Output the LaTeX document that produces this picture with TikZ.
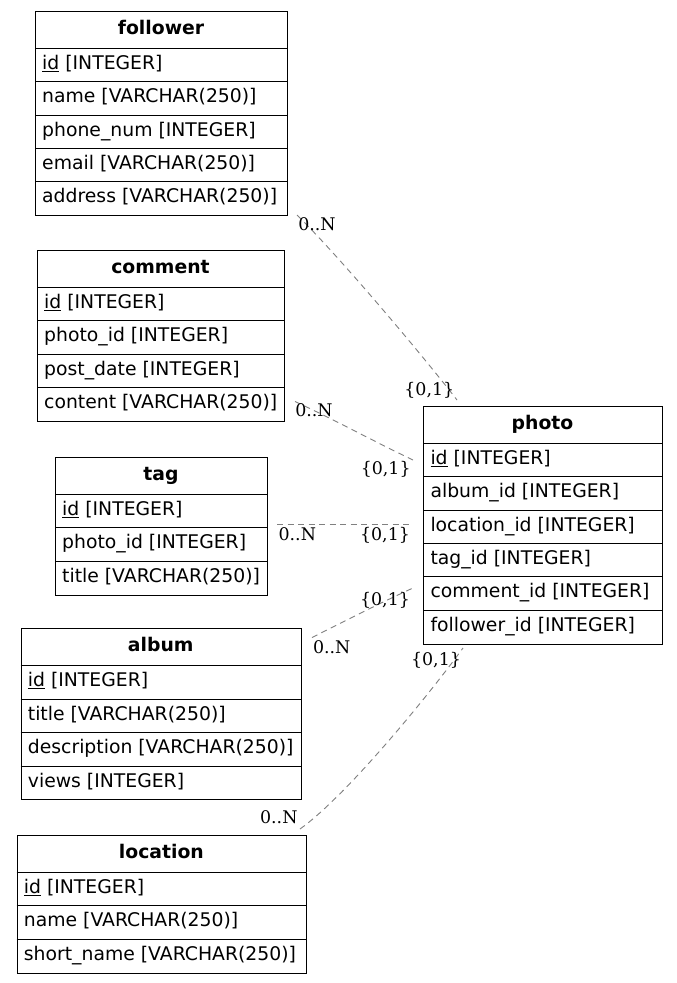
\documentclass[tikz,border=0pt]{standalone}
\usepackage{fontspec}
\setmainfont{DejaVu Sans}
\newfontfamily\lblfont{DejaVu Serif}
\tikzset{
  tbox/.style={draw=black, line width=1pt, inner sep=0pt, fill=none},
  sepline/.style={draw=black, line width=1pt},
  ttitle/.style={anchor=base, inner sep=0pt, font=\fontsize{18.8}{22}\selectfont\bfseries},
  tfield/.style={anchor=base west, inner sep=0pt, font=\fontsize{18.8}{22}\selectfont},
  conn/.style={draw=black!50, line width=0.9pt, dash pattern=on 6pt off 4.5pt},
  card/.style={anchor=base, inner sep=0pt, font=\fontsize{17.4}{20}\lblfont},
}
\newcommand\ertable[6]{%
  \pgfmathsetmacro\erw{#3-#2}%
  \gdef\ern{0}%
  \foreach \f [count=\i] in {#6} {\xdef\ern{\i}}%
  \pgfmathsetmacro\erh{37.5+\ern*33.4}%
  \node[tbox, minimum width=\erw pt, minimum height=\erh pt, anchor=north west] (#1) at (#2,#4) {};
  \node[ttitle] (#1-t) at ({(#2+#3)/2}, {#4+23.5}) {#5};
  \foreach \f [count=\i] in {#6} {
    \draw[sepline] (#2,{#4+37.5+(\i-1)*33.4}) -- (#3,{#4+37.5+(\i-1)*33.4});
    \node[tfield] (#1-\i) at ({#2+7}, {#4+37.5+\i*33.4-12.4}) {\f};
  }
}
\begin{document}
\begin{tikzpicture}[x=1pt,y=-1pt]
\useasboundingbox (0,0) rectangle (677,983);
\fill[white] (0,0) rectangle (677,983);

\ertable{follower}{35}{287}{10.7}{follower}{{\underline{id} [INTEGER]},{name [VARCHAR(250)]},{phone\_num [INTEGER]},{email [VARCHAR(250)]},{address [VARCHAR(250)]}}
\ertable{comment}{37}{284}{250}{comment}{{\underline{id} [INTEGER]},{photo\_id [INTEGER]},{post\_date [INTEGER]},{content [VARCHAR(250)]}}
\ertable{tag}{55}{267}{457}{tag}{{\underline{id} [INTEGER]},{photo\_id [INTEGER]},{title [VARCHAR(250)]}}
\ertable{album}{20.7}{300.7}{628.3}{album}{{\underline{id} [INTEGER]},{title [VARCHAR(250)]},{description [VARCHAR(250)]},{views [INTEGER]}}
\ertable{location}{16.7}{306}{835}{location}{{\underline{id} [INTEGER]},{name [VARCHAR(250)]},{short\_name [VARCHAR(250)]}}
\ertable{photo}{423.3}{661.7}{405.7}{photo}{{\underline{id} [INTEGER]},{album\_id [INTEGER]},{location\_id [INTEGER]},{tag\_id [INTEGER]},{comment\_id [INTEGER]},{follower\_id [INTEGER]}}

% connector end points
\coordinate (fol-e) at (297,215);
\coordinate (pho-n) at (457,400);
\coordinate (com-e) at (295,401.5);
\coordinate (pho-w1) at (413,460);
\coordinate (tag-e) at (277,524);
\coordinate (pho-w2) at (413,524);
\coordinate (alb-e) at (312,637.5);
\coordinate (pho-w3) at (413,588);
\coordinate (loc-e) at (300,829);
\coordinate (pho-s) at (463,648);

\draw[conn] (fol-e) .. controls (336,253) and (420,352) .. (pho-n);
\draw[conn] (com-e) .. controls (335,420) and (375,442) .. (pho-w1);
\draw[conn] (tag-e) -- (pho-w2);
\draw[conn] (alb-e) .. controls (345,621) and (380,603) .. (pho-w3);
\draw[conn] (loc-e) .. controls (345,797) and (425,700) .. (pho-s);

% cardinalities
\node[card] (c1a) at (317,230) {0..N};
\node[card] (c1b) at (429.3,395) {\{0,1\}};
\node[card] (c2a) at (314,416) {0..N};
\node[card] (c2b) at (385.7,474) {\{0,1\}};
\node[card] (c3a) at (297.3,540) {0..N};
\node[card] (c3b) at (385,540) {\{0,1\}};
\node[card] (c4a) at (331.7,653.3) {0..N};
\node[card] (c4b) at (385,605) {\{0,1\}};
\node[card] (c5a) at (278.8,823.3) {0..N};
\node[card] (c5b) at (436,665) {\{0,1\}};
\end{tikzpicture}
\end{document}
